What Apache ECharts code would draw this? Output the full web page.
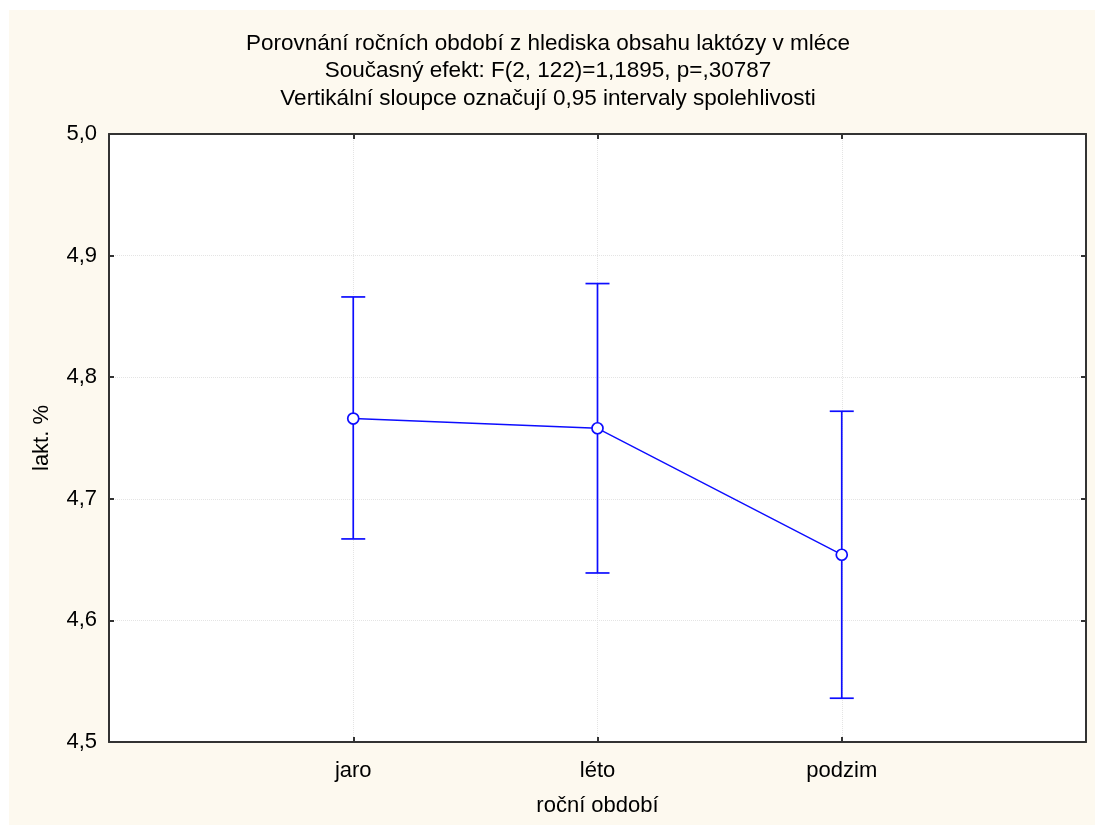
<!DOCTYPE html>
<html><head><meta charset="utf-8">
<script src="https://cdn.jsdelivr.net/npm/echarts@6/dist/echarts.min.js"></script>
<style>
html,body{margin:0;padding:0;background:#fff;}
#c{position:absolute;left:9px;top:10px;width:1086px;height:815px;}
</style></head>
<body><div id="c"></div>
<script>
const titleLines = ['Porovnání ročních období z hlediska obsahu laktózy v mléce','Současný efekt: F(2, 122)=1,1895, p=,30787','Vertikální sloupce označují 0,95 intervaly spolehlivosti'];
const categories = ['jaro','léto','podzim'];
const means = [4.766, 4.758, 4.654];
const upper = [4.866, 4.877, 4.772];
const lower = [4.667, 4.639, 4.536];
const xName = 'roční období';
const yName = 'lakt. %';
const yMin = 4.5, yMax = 5.0, yStep = 0.1;

const axisCats = [''].concat(categories, ['']);
const FONT = 'Liberation Sans, Arial, sans-serif';
const FS = 22;
const chart = echarts.init(document.getElementById('c'));
const blue = '#0d0dff';
const axCommon = {
  axisLine:{show:true,lineStyle:{color:'#333',width:2}},
  axisTick:{show:true,inside:true,length:5,lineStyle:{color:'#333',width:2}},
};
chart.setOption({
  backgroundColor:'#fdf9ef',
  animation:false,
  title:{text:titleLines.join('\n'),left:534,top:15,textAlign:'center',
    textStyle:{fontFamily:FONT,fontSize:22.5,fontWeight:'normal',color:'#000',lineHeight:27.5}},
  grid:{left:100,top:124,right:9,bottom:83,show:true,backgroundColor:'#fff',borderWidth:0},
  xAxis:[
    Object.assign({type:'category',data:axisCats,boundaryGap:false,position:'bottom',
      name:xName,nameLocation:'middle',nameGap:53,
      nameTextStyle:{fontFamily:FONT,fontSize:FS,color:'#000'},
      axisLabel:{fontFamily:FONT,fontSize:FS,color:'#000',margin:18,interval:0},
      splitLine:{show:true,lineStyle:{color:'#e4e4e4',type:'dotted',width:1}}},axCommon),
    Object.assign({type:'category',data:axisCats,boundaryGap:false,position:'top',
      axisLabel:{show:false},splitLine:{show:false}},axCommon)
  ],
  yAxis:[
    Object.assign({type:'value',min:yMin,max:yMax,interval:yStep,position:'left',
      name:yName,nameLocation:'middle',nameGap:56,
      nameTextStyle:{fontFamily:FONT,fontSize:FS,color:'#000'},
      axisLabel:{fontFamily:FONT,fontSize:FS,color:'#000',margin:12,
        formatter:v=>v.toFixed(1).replace('.',',')},
      splitLine:{show:true,lineStyle:{color:'#e4e4e4',type:'dotted',width:1}}},axCommon),
    Object.assign({type:'value',min:yMin,max:yMax,interval:yStep,position:'right',
      axisLabel:{show:false},splitLine:{show:false}},axCommon)
  ],
  series:[
    {type:'custom',xAxisIndex:0,yAxisIndex:0,z:2,
     data:categories.map((c,i)=>[c,lower[i],upper[i]]),
     renderItem:function(params,api){
       const lo=api.coord([api.value(0),api.value(1)]);
       const hi=api.coord([api.value(0),api.value(2)]);
       const w=12;
       const st={stroke:blue,lineWidth:1.7};
       return {type:'group',children:[
         {type:'line',shape:{x1:lo[0],y1:lo[1],x2:hi[0],y2:hi[1]},style:st},
         {type:'line',shape:{x1:lo[0]-w,y1:lo[1],x2:lo[0]+w,y2:lo[1]},style:st},
         {type:'line',shape:{x1:hi[0]-w,y1:hi[1],x2:hi[0]+w,y2:hi[1]},style:st}
       ]};
     }},
    {type:'line',xAxisIndex:0,yAxisIndex:0,z:3,
     data:categories.map((c,i)=>[c,means[i]]),
     symbol:'circle',symbolSize:11,
     lineStyle:{color:blue,width:1.4},
     itemStyle:{color:'#fff',borderColor:blue,borderWidth:1.7}}
  ]
});
</script></body></html>
